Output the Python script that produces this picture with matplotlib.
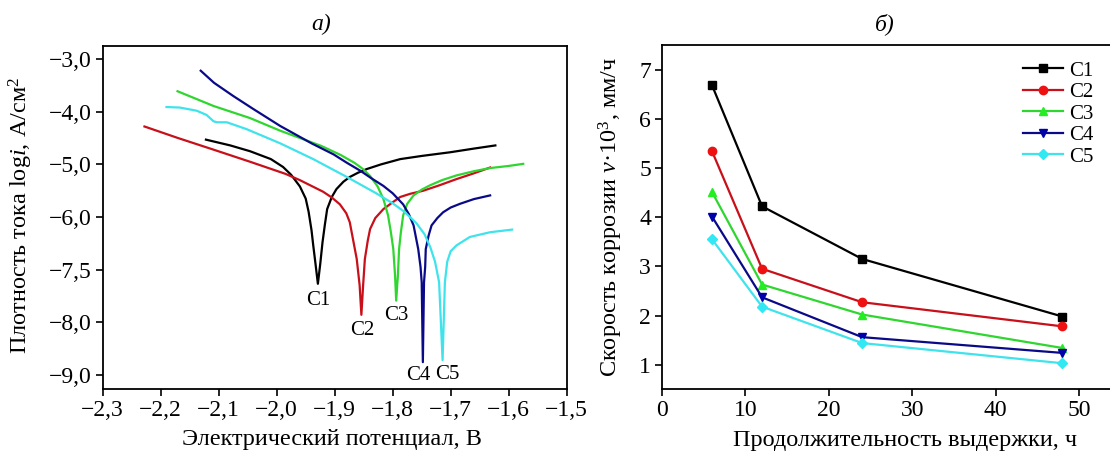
import numpy as np
import matplotlib
matplotlib.use("Agg")
import matplotlib.pyplot as plt

plt.rcParams['font.family'] = ['Liberation Serif', 'DejaVu Serif']
plt.rcParams['mathtext.fontset'] = 'custom'
plt.rcParams['mathtext.rm'] = 'Liberation Serif'
plt.rcParams['mathtext.it'] = 'Liberation Serif:italic'

##########################################################################################
# a) polarisation curves, potential (V) vs log i (read off the picture)
c1_v = [-2.122, -2.080, -2.046, -2.010, -1.989, -1.975, -1.960, -1.950, -1.945, -1.940,
        -1.937, -1.933, -1.929, -1.925, -1.921, -1.917, -1.913, -1.905, -1.897, -1.885,
        -1.874, -1.860, -1.845, -1.820, -1.787, -1.750, -1.701, -1.660, -1.623]
c1_i = [-4.53, -4.64, -4.75, -4.90, -5.05, -5.20, -5.42, -5.65, -5.90, -6.25,
        -6.54, -6.90, -7.27, -6.90, -6.48, -6.15, -5.85, -5.62, -5.47, -5.33,
        -5.24, -5.16, -5.09, -5.00, -4.90, -4.84, -4.77, -4.70, -4.64]

c2_v = [-2.228, -2.170, -2.109, -2.046, -1.985, -1.960, -1.940, -1.920, -1.905, -1.891,
        -1.880, -1.874, -1.868, -1.862, -1.857, -1.854, -1.851, -1.848, -1.843, -1.839,
        -1.830, -1.816, -1.800, -1.787, -1.770, -1.747, -1.720, -1.690, -1.660, -1.632]
c2_i = [-4.28, -4.50, -4.72, -4.95, -5.18, -5.30, -5.41, -5.52, -5.63, -5.76,
        -5.93, -6.10, -6.45, -6.80, -7.30, -7.86, -7.30, -6.80, -6.45, -6.23,
        -6.02, -5.85, -5.72, -5.62, -5.56, -5.50, -5.40, -5.28, -5.17, -5.06]

c3_v = [-2.171, -2.109, -2.046, -1.994, -1.923, -1.890, -1.866, -1.851, -1.839, -1.826,
        -1.816, -1.808, -1.803, -1.799, -1.796, -1.794, -1.791, -1.789, -1.786, -1.782,
        -1.775, -1.764, -1.750, -1.736, -1.715, -1.690, -1.660, -1.632, -1.600, -1.575]
c3_i = [-3.61, -3.89, -4.12, -4.36, -4.65, -4.82, -4.97, -5.09, -5.22, -5.42,
        -5.66, -5.97, -6.30, -6.61, -7.10, -7.59, -7.10, -6.61, -6.30, -5.97,
        -5.75, -5.59, -5.48, -5.40, -5.30, -5.21, -5.13, -5.07, -5.03, -4.99]

c4_v = [-2.131, -2.108, -2.075, -2.040, -1.994, -1.940, -1.902, -1.879, -1.856, -1.836,
        -1.816, -1.800, -1.782, -1.772, -1.764, -1.756, -1.752, -1.750, -1.748, -1.746,
        -1.744, -1.743, -1.738, -1.733, -1.723, -1.713, -1.700, -1.684, -1.660, -1.632]
c4_i = [-3.22, -3.45, -3.70, -3.95, -4.27, -4.60, -4.81, -4.97, -5.12, -5.27,
        -5.41, -5.55, -5.76, -5.95, -6.16, -6.61, -6.95, -7.24, -8.76, -7.24,
        -6.95, -6.61, -6.35, -6.16, -6.02, -5.91, -5.82, -5.75, -5.66, -5.59]

c5_v = [-2.190, -2.167, -2.138, -2.121, -2.109, -2.103, -2.086, -2.052, -1.994, -1.937,
        -1.879, -1.830, -1.800, -1.780, -1.759, -1.745, -1.735, -1.727, -1.720, -1.714,
        -1.710, -1.706, -1.700, -1.690, -1.667, -1.632, -1.594]
c5_i = [-3.91, -3.92, -3.98, -4.06, -4.18, -4.20, -4.20, -4.33, -4.60, -4.90,
        -5.24, -5.54, -5.74, -5.90, -6.12, -6.33, -6.58, -6.85, -7.24, -8.72,
        -7.24, -6.85, -6.65, -6.54, -6.38, -6.29, -6.24]

names = ["C1", "C2", "C3", "C4", "C5"]
# where the curve names are written under the tips
name_v = [-1.928, -1.853, -1.794, -1.756, -1.705]
name_i = [-7.59, -8.16, -7.87, -9.01, -9.00]

pot_ticks = [-2.3, -2.2, -2.1, -2.0, -1.9, -1.8, -1.7, -1.6, -1.5]
pot_labels = ["\u22122,3", "\u22122,2", "\u22122,1", "\u22122,0", "\u22121,9",
              "\u22121,8", "\u22121,7", "\u22121,6", "\u22121,5"]
logi_ticks = [-3, -4, -5, -6, -7, -8, -9]
logi_labels = ["\u22123,0", "\u22124,0", "\u22125,0", "\u22126,0", "\u22127,5",
               "\u22128,0", "\u22129,0"]

##########################################################################################
# b) corrosion rate vs exposure time
hours = [6, 12, 24, 48]
rate_c1 = [6.68, 4.22, 3.15, 1.98]
rate_c2 = [5.34, 2.95, 2.27, 1.78]
rate_c3 = [4.51, 2.63, 2.02, 1.34]
rate_c4 = [4.01, 2.37, 1.56, 1.24]
rate_c5 = [3.55, 2.18, 1.44, 1.03]

line_cols = ["black", "#c8101a", "#2fd62f", "#0a0a88", "#3fe3ec"]
mark_cols = ["black", "#ee1111", "#22ee22", "#0000aa", "#33e8f2"]
markers = ["s", "o", "^", "v", "D"]

W, H = 1110.0, 453.0
fig = plt.figure(figsize=(W / 100, H / 100), dpi=100)

# ---- left panel
ax1 = fig.add_axes([102.7 / W, (H - 389) / H, 464 / W, 343 / H])
curves = [(c1_v, c1_i), (c2_v, c2_i), (c3_v, c3_i), (c4_v, c4_i), (c5_v, c5_i)]
for (v, i), col in zip(curves, line_cols):
    ax1.plot(v, i, color=col, lw=1.6, solid_joinstyle="round")
for k in range(len(names)):
    ax1.text(name_v[k], name_i[k], names[k], ha="center", va="center", fontsize=15)

ax1.set_xlim(-2.3, -1.5)
ax1.set_ylim(-9.27, -2.75)
ax1.set_xticks(pot_ticks)
ax1.set_xticklabels(pot_labels)
ax1.set_yticks(logi_ticks)
ax1.set_yticklabels(logi_labels)
ax1.set_xlabel("Электрический потенциал, В", fontsize=17.5)
ax1.set_ylabel(r"Плотность тока log$i$, А/см$^2$", fontsize=17.5)
ax1.xaxis.set_label_coords(0.494, -0.118)
ax1.yaxis.set_label_coords(-0.145, 0.505)

# ---- right panel (frame runs off the right edge of the picture)
ax2 = fig.add_axes([662 / W, (H - 389.3) / H, 448 / W, 344.3 / H])
rates = [rate_c1, rate_c2, rate_c3, rate_c4, rate_c5]
for k in range(len(rates)):
    ax2.plot(hours, rates[k], color=line_cols[k], lw=1.6, marker=markers[k],
             markersize=6 if markers[k] != "D" else 5, markerfacecolor=mark_cols[k],
             markeredgecolor=mark_cols[k], label=names[k])
ax2.set_xlim(0, 448 / 8.34)
ax2.set_ylim(0.5, 7.5)
ax2.set_xticks([0, 10, 20, 30, 40, 50])
ax2.set_yticks([1, 2, 3, 4, 5, 6, 7])
ax2.spines["right"].set_visible(False)
ax2.set_xlabel("Продолжительность выдержки, ч", fontsize=17.5)
ax2.set_ylabel(r"Скорость коррозии $v$·10$^3$, мм/ч", fontsize=17.5)
ax2.xaxis.set_label_coords(0.542, -0.118)
ax2.yaxis.set_label_coords(-0.083, 0.50)
ax2.legend(loc="upper left", bbox_to_anchor=(0.806, 0.953), frameon=False,
           fontsize=15, handlelength=1.9, handletextpad=0.3, labelspacing=0.09,
           borderpad=0, borderaxespad=0)

for ax in (ax1, ax2):
    for s in ax.spines.values():
        s.set_linewidth(1.3)
    ax.tick_params(direction="out", length=5, width=1.2, labelsize=17, pad=3)

fig.text(321 / W, 1 - 24 / H, "а)", ha="center", va="center", fontsize=17, style="italic")
fig.text(885 / W, 1 - 24 / H, "б)", ha="center", va="center", fontsize=17, style="italic")

fig.savefig("out.png", dpi=100)
